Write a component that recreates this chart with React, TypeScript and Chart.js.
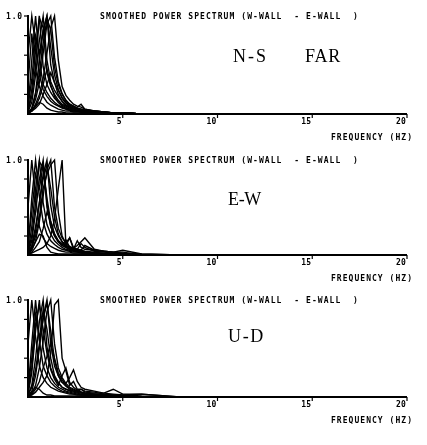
import React, { useEffect, useRef } from "react";
import { Chart, registerables } from "chart.js";
Chart.register(...registerables);

// Frequency grid (Hz) shared by every smoothed spectrum curve
const freqHz = [0, 0.2, 0.4, 0.6, 0.8, 1.0, 1.2, 1.4, 1.6, 1.8, 2.0, 2.2, 2.4, 2.6, 2.8, 3.0, 3.5, 4.0, 4.5, 5.0, 6.0, 8.0, 20];

// N-S component (far)
const ns01 = [0.30, 0.82, 0.45, 0.28, 0.18, 0.12, 0.09, 0.07, 0.05, 0.04, 0.03, 0.03, 0.02, 0.02, 0.02, 0.01, 0.01, 0.01, 0.01, 0.01, 0, 0, 0];
const ns02 = [0.05, 0.55, 1.00, 0.55, 0.30, 0.22, 0.16, 0.12, 0.09, 0.07, 0.05, 0.04, 0.03, 0.03, 0.02, 0.02, 0.01, 0.01, 0.01, 0.01, 0, 0, 0];
const ns03 = [0.02, 0.25, 0.65, 1.00, 0.48, 0.30, 0.22, 0.16, 0.12, 0.09, 0.07, 0.05, 0.04, 0.03, 0.03, 0.02, 0.02, 0.01, 0.01, 0.01, 0, 0, 0];
const ns04 = [0.02, 0.12, 0.40, 0.75, 1.00, 0.55, 0.33, 0.24, 0.18, 0.13, 0.09, 0.07, 0.05, 0.04, 0.04, 0.03, 0.02, 0.01, 0.01, 0.01, 0, 0, 0];
const ns05 = [0.01, 0.06, 0.22, 0.55, 0.85, 1.00, 0.50, 0.32, 0.24, 0.17, 0.12, 0.09, 0.07, 0.05, 0.04, 0.03, 0.02, 0.02, 0.01, 0.01, 0, 0, 0];
const ns06 = [0.01, 0.05, 0.15, 0.32, 0.62, 0.92, 1.00, 0.58, 0.33, 0.21, 0.14, 0.10, 0.08, 0.06, 0.05, 0.04, 0.03, 0.02, 0.01, 0.01, 0, 0, 0];
const ns07 = [0.01, 0.03, 0.10, 0.20, 0.36, 0.62, 0.88, 1.00, 0.55, 0.28, 0.19, 0.14, 0.10, 0.08, 0.07, 0.05, 0.03, 0.02, 0.01, 0.01, 0, 0, 0];
const ns08 = [0.03, 0.18, 0.50, 0.98, 0.88, 0.42, 0.28, 0.20, 0.14, 0.10, 0.08, 0.06, 0.05, 0.04, 0.03, 0.03, 0.02, 0.01, 0.01, 0.01, 0, 0, 0];
const ns09 = [0.01, 0.05, 0.20, 0.42, 0.72, 0.97, 0.86, 0.48, 0.30, 0.20, 0.14, 0.10, 0.08, 0.06, 0.05, 0.04, 0.03, 0.02, 0.01, 0.01, 0, 0, 0];
const ns10 = [0.01, 0.03, 0.08, 0.16, 0.30, 0.46, 0.30, 0.18, 0.12, 0.08, 0.06, 0.05, 0.04, 0.03, 0.03, 0.02, 0.02, 0.01, 0.01, 0.01, 0, 0, 0];
const ns11 = [0.01, 0.04, 0.08, 0.12, 0.10, 0.06, 0.04, 0.03, 0.02, 0.02, 0.01, 0.01, 0.01, 0.01, 0.01, 0.01, 0.01, 0, 0, 0, 0, 0, 0];
const ns12 = [0.01, 0.03, 0.06, 0.10, 0.20, 0.30, 0.42, 0.32, 0.20, 0.13, 0.09, 0.07, 0.06, 0.07, 0.10, 0.05, 0.03, 0.02, 0.01, 0.01, 0, 0, 0];
const ns13 = [0.08, 0.35, 0.80, 0.62, 0.85, 1.00, 0.68, 0.40, 0.25, 0.16, 0.11, 0.08, 0.06, 0.05, 0.04, 0.03, 0.02, 0.02, 0.01, 0.01, 0, 0, 0];
const ns14 = [0.60, 1.00, 0.70, 0.40, 0.25, 0.18, 0.13, 0.10, 0.08, 0.06, 0.05, 0.04, 0.03, 0.03, 0.02, 0.02, 0.02, 0.01, 0.01, 0.01, 0, 0, 0];

// E-W component
const ew01 = [0.50, 1.00, 0.60, 0.30, 0.18, 0.12, 0.09, 0.07, 0.05, 0.04, 0.03, 0.03, 0.02, 0.02, 0.02, 0.01, 0.01, 0.01, 0.01, 0.01, 0, 0, 0];
const ew02 = [0.05, 0.60, 1.00, 0.62, 0.35, 0.22, 0.15, 0.11, 0.08, 0.06, 0.05, 0.04, 0.03, 0.03, 0.02, 0.02, 0.01, 0.01, 0.01, 0.01, 0, 0, 0];
const ew03 = [0.02, 0.30, 0.70, 1.00, 0.55, 0.32, 0.22, 0.15, 0.11, 0.08, 0.06, 0.05, 0.04, 0.03, 0.03, 0.02, 0.02, 0.01, 0.01, 0.01, 0, 0, 0];
const ew04 = [0.02, 0.15, 0.45, 0.80, 1.00, 0.50, 0.30, 0.20, 0.14, 0.10, 0.08, 0.06, 0.05, 0.04, 0.03, 0.03, 0.02, 0.01, 0.01, 0.01, 0, 0, 0];
const ew05 = [0.01, 0.08, 0.25, 0.55, 0.85, 1.00, 0.52, 0.30, 0.20, 0.14, 0.10, 0.08, 0.06, 0.05, 0.04, 0.03, 0.02, 0.02, 0.01, 0.01, 0, 0, 0];
const ew06 = [0.01, 0.05, 0.15, 0.35, 0.62, 0.90, 1.00, 0.50, 0.28, 0.18, 0.13, 0.18, 0.08, 0.06, 0.05, 0.04, 0.03, 0.02, 0.01, 0.01, 0, 0, 0];
const ew07 = [0.03, 0.20, 0.55, 0.98, 0.92, 0.60, 0.35, 0.22, 0.15, 0.10, 0.08, 0.06, 0.05, 0.04, 0.03, 0.03, 0.02, 0.01, 0.01, 0.01, 0, 0, 0];
const ew08 = [0.01, 0.02, 0.04, 0.06, 0.08, 0.12, 0.20, 0.38, 0.70, 1.00, 0.10, 0.18, 0.06, 0.06, 0.12, 0.08, 0.04, 0.03, 0.02, 0.02, 0, 0, 0];
const ew09 = [0.01, 0.06, 0.14, 0.22, 0.20, 0.08, 0.03, 0.02, 0.01, 0.01, 0.01, 0.01, 0.01, 0.01, 0.01, 0.01, 0, 0, 0, 0, 0, 0, 0];
const ew10 = [0.02, 0.10, 0.30, 0.55, 0.80, 0.95, 0.70, 0.40, 0.22, 0.14, 0.10, 0.08, 0.07, 0.10, 0.14, 0.18, 0.06, 0.04, 0.03, 0.02, 0.01, 0, 0];
const ew11 = [0.10, 0.45, 0.85, 0.70, 0.95, 0.55, 0.30, 0.20, 0.14, 0.10, 0.16, 0.08, 0.06, 0.15, 0.08, 0.06, 0.05, 0.04, 0.03, 0.05, 0.01, 0, 0];
const ew12 = [0.02, 0.08, 0.20, 0.40, 0.70, 0.85, 0.95, 1.00, 0.45, 0.20, 0.12, 0.09, 0.07, 0.06, 0.05, 0.10, 0.05, 0.04, 0.03, 0.03, 0, 0, 0];
const ew13 = [0.01, 0.03, 0.08, 0.14, 0.28, 0.45, 0.35, 0.22, 0.15, 0.12, 0.09, 0.07, 0.05, 0.04, 0.04, 0.03, 0.02, 0.01, 0.01, 0.01, 0, 0, 0];

// U-D component
const ud01 = [0.55, 1.00, 0.62, 0.32, 0.20, 0.14, 0.10, 0.08, 0.06, 0.05, 0.04, 0.03, 0.03, 0.02, 0.02, 0.02, 0.01, 0.01, 0.01, 0.01, 0, 0, 0];
const ud02 = [0.06, 0.55, 1.00, 0.58, 0.32, 0.22, 0.15, 0.11, 0.08, 0.06, 0.05, 0.04, 0.03, 0.03, 0.02, 0.02, 0.01, 0.01, 0.01, 0.01, 0, 0, 0];
const ud03 = [0.03, 0.25, 0.68, 1.00, 0.50, 0.30, 0.20, 0.14, 0.10, 0.08, 0.06, 0.05, 0.04, 0.03, 0.03, 0.02, 0.02, 0.01, 0.01, 0.01, 0, 0, 0];
const ud04 = [0.02, 0.12, 0.40, 0.78, 1.00, 0.52, 0.30, 0.20, 0.14, 0.10, 0.08, 0.06, 0.05, 0.04, 0.03, 0.03, 0.02, 0.01, 0.01, 0.01, 0, 0, 0];
const ud05 = [0.01, 0.06, 0.22, 0.50, 0.82, 1.00, 0.55, 0.32, 0.22, 0.15, 0.11, 0.08, 0.06, 0.05, 0.04, 0.03, 0.02, 0.02, 0.01, 0.01, 0, 0, 0];
const ud06 = [0.01, 0.04, 0.12, 0.30, 0.58, 0.88, 1.00, 0.55, 0.30, 0.20, 0.14, 0.10, 0.08, 0.06, 0.05, 0.04, 0.03, 0.02, 0.01, 0.01, 0, 0, 0];
const ud07 = [0.01, 0.02, 0.05, 0.10, 0.15, 0.22, 0.45, 0.95, 1.00, 0.40, 0.27, 0.12, 0.16, 0.08, 0.08, 0.05, 0.04, 0.04, 0.08, 0.03, 0.03, 0, 0];
const ud08 = [0.04, 0.30, 0.75, 0.95, 0.70, 0.45, 0.28, 0.18, 0.12, 0.22, 0.30, 0.15, 0.10, 0.07, 0.05, 0.04, 0.03, 0.02, 0.01, 0.01, 0, 0, 0];
const ud09 = [0.01, 0.05, 0.10, 0.08, 0.04, 0.02, 0.02, 0.01, 0.01, 0.01, 0.01, 0.01, 0.01, 0.01, 0.01, 0.01, 0, 0, 0, 0, 0, 0, 0];
const ud10 = [0.02, 0.10, 0.28, 0.55, 0.80, 0.97, 0.68, 0.38, 0.22, 0.15, 0.14, 0.20, 0.28, 0.16, 0.10, 0.08, 0.06, 0.04, 0.03, 0.02, 0.01, 0, 0];
const ud11 = [0.08, 0.40, 0.85, 0.60, 0.90, 0.70, 0.40, 0.22, 0.15, 0.10, 0.08, 0.07, 0.06, 0.05, 0.08, 0.06, 0.05, 0.03, 0.02, 0.02, 0.03, 0, 0];
const ud12 = [0.01, 0.03, 0.08, 0.16, 0.30, 0.42, 0.55, 0.40, 0.25, 0.18, 0.12, 0.09, 0.07, 0.06, 0.05, 0.04, 0.03, 0.02, 0.02, 0.01, 0, 0, 0];

const nsCurves = [ns01, ns02, ns03, ns04, ns05, ns06, ns07, ns08, ns09, ns10, ns11, ns12, ns13, ns14];
const ewCurves = [ew01, ew02, ew03, ew04, ew05, ew06, ew07, ew08, ew09, ew10, ew11, ew12, ew13];
const udCurves = [ud01, ud02, ud03, ud04, ud05, ud06, ud07, ud08, ud09, ud10, ud11, ud12];

const xTicks = [5, 10, 15, 20];
const yTicks = [0.2, 0.4, 0.6, 0.8, 1.0];
const yTopLabel = "1.0";
const titleText = "SMOOTHED POWER SPECTRUM (W-WALL  - E-WALL  )";
const xAxisTitle = "FREQUENCY (HZ)";

type Panel = {
  curves: number[][];
  labels: { text: string; x: number; w: number }[];
  canvasTop: number;
  plotH: number;
  labelDy: number;
};

const panels: Panel[] = [
  { curves: nsCurves, labels: [{ text: "N-S", x: 233, w: 35 }, { text: "FAR", x: 305, w: 36 }], canvasTop: 0, plotH: 98, labelDy: 46 },
  { curves: ewCurves, labels: [{ text: "E-W", x: 228, w: 33 }], canvasTop: 144, plotH: 95, labelDy: 45 },
  { curves: udCurves, labels: [{ text: "U-D", x: 228, w: 37 }], canvasTop: 284, plotH: 97, labelDy: 42 },
];

const PAD_TOP = 16;
const PAD_BOTTOM = 32;
const PAD_LEFT = 28;
const PAD_RIGHT = 20;
const W = 427;

function spaced(ctx: CanvasRenderingContext2D, text: string, x: number, y: number, width: number) {
  (ctx as any).letterSpacing = "0px";
  const m = ctx.measureText(text).width;
  const ls = (width - m) / Math.max(1, text.length);
  (ctx as any).letterSpacing = ls + "px";
  ctx.fillText(text, x, y);
  (ctx as any).letterSpacing = "0px";
}

const MONO = "bold 8px 'DejaVu Sans Mono'";

function makeDecor(panel: Panel) {
  return {
    id: "decor",
    afterDraw(chart: any) {
      const ctx: CanvasRenderingContext2D = chart.ctx;
      const { left, top, bottom } = chart.chartArea;
      const xs = chart.scales.x;
      const ys = chart.scales.y;
      ctx.save();
      ctx.strokeStyle = "#000";
      ctx.fillStyle = "#000";
      ctx.lineWidth = 2;
      ctx.beginPath();
      ctx.moveTo(left, top - 1);
      ctx.lineTo(left, bottom);
      ctx.lineTo(xs.getPixelForValue(20), bottom);
      ctx.stroke();
      ctx.lineWidth = 1.2;
      for (const v of yTicks) {
        const y = ys.getPixelForValue(v);
        ctx.beginPath();
        ctx.moveTo(left - 4, y);
        ctx.lineTo(left, y);
        ctx.stroke();
      }
      ctx.font = MONO;
      ctx.textBaseline = "alphabetic";
      ctx.textAlign = "left";
      spaced(ctx, yTopLabel, 6, ys.getPixelForValue(1) + 3, 17);
      for (const v of xTicks) {
        const x = xs.getPixelForValue(v);
        ctx.beginPath();
        ctx.moveTo(x, bottom);
        ctx.lineTo(x, bottom + 4);
        ctx.stroke();
        const t = String(v);
        const tw = t.length === 1 ? 5 : 10;
        spaced(ctx, t, x - 1 - tw, bottom + 10, tw);
      }
      spaced(ctx, titleText, 100, top + 3, 259);
      spaced(ctx, xAxisTitle, 331, bottom + 26, 82);
      ctx.font = "18px 'Liberation Serif'";
      for (const l of panel.labels) {
        spaced(ctx, l.text, l.x, top + panel.labelDy, l.w);
      }
      ctx.restore();
    },
  };
}

function PanelChart({ panel }: { panel: Panel }) {
  const ref = useRef<HTMLCanvasElement | null>(null);
  useEffect(() => {
    if (!ref.current) return;
    const chart = new Chart(ref.current, {
      type: "line",
      data: {
        datasets: panel.curves.map((c) => ({
          data: freqHz.map((f, i) => ({ x: f, y: c[i] })),
          borderColor: "#000",
          borderWidth: 1.4,
          pointRadius: 0,
          tension: 0,
          fill: false,
          clip: false as any,
        })),
      },
      options: {
        animation: false,
        responsive: false,
        maintainAspectRatio: false,
        devicePixelRatio: 1,
        layout: { padding: { top: PAD_TOP, bottom: PAD_BOTTOM, left: PAD_LEFT, right: PAD_RIGHT } },
        plugins: { legend: { display: false }, tooltip: { enabled: false }, title: { display: false } },
        events: [],
        scales: {
          x: { type: "linear", min: 0, max: 20, display: false },
          y: { type: "linear", min: 0, max: 1, display: false },
        },
      },
      plugins: [makeDecor(panel)],
    });
    return () => chart.destroy();
  }, [panel]);
  const h = PAD_TOP + panel.plotH + PAD_BOTTOM;
  return (
    <canvas
      ref={ref}
      width={W}
      height={h}
      style={{ position: "absolute", left: 0, top: panel.canvasTop, width: W, height: h }}
    />
  );
}

export default function App() {
  return (
    <div style={{ position: "fixed", left: 0, top: 0, width: 427, height: 445, background: "#fff" }}>
      {panels.map((p, i) => (
        <PanelChart key={i} panel={p} />
      ))}
    </div>
  );
}
